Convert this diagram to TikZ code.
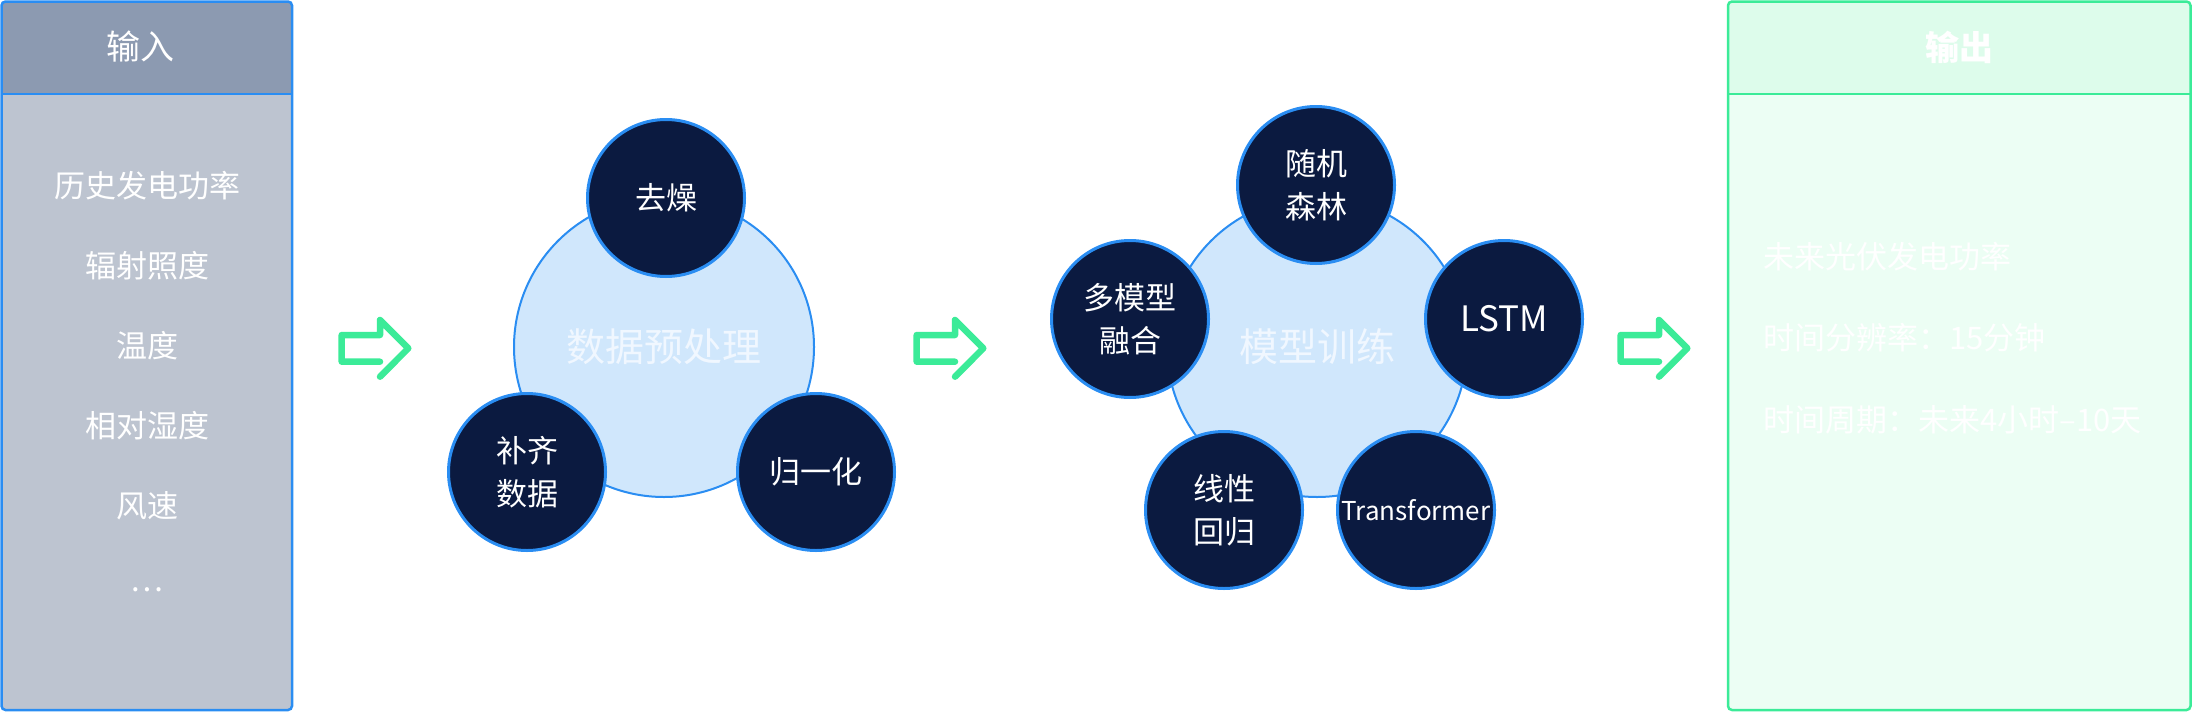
\documentclass[tikz,border=0pt]{standalone}
\usepackage{fontspec}
\setmainfont{Noto Sans CJK SC}
\definecolor{inHead}{HTML}{8C9AB1}
\definecolor{inBody}{HTML}{BDC4D0}
\definecolor{blueEdge}{HTML}{2A8DF2}
\definecolor{navy}{HTML}{0B1A40}
\definecolor{paleBlue}{HTML}{D0E7FC}
\definecolor{greenEdge}{HTML}{3BEB98}
\definecolor{outHead}{HTML}{DDFCEB}
\definecolor{outBody}{HTML}{ECFEF4}
\definecolor{bigText}{HTML}{F0F7FF}
\tikzset{
  headtext/.style={text=white, font=\fontsize{34}{40}\selectfont, inner sep=0pt},
  intext/.style={text=white, font=\fontsize{31}{37}\selectfont, inner sep=0pt},
  outtext/.style={text=white, font=\fontsize{31}{37}\selectfont, inner sep=0pt, anchor=west},
  bigcircle/.style={circle, fill=paleBlue, draw=blueEdge, line width=2pt, minimum size=300pt, inner sep=0pt,
     text=bigText, font=\fontsize{39}{45}\selectfont},
  smallcircle/.style={circle, fill=navy, draw=blueEdge, line width=3pt, minimum size=157pt, inner sep=0pt,
     text=white, align=center, font=\fontsize{31}{43}\selectfont},
  arrowline/.style={draw=greenEdge, line width=6.5pt, line cap=round, line join=round},
  fatarrow/.pic={\draw[arrowline] (0,13.4)--(-38.3,13.4)--(-38.3,-13.3)--(0,-13.3)--(0,-28.3)--(28.3,0)--(0,28.4);}
}
\begin{document}
\begin{tikzpicture}[x=1pt,y=-1pt]
\useasboundingbox (0,0) rectangle (2192,712);
% input panel
\fill[inBody, rounded corners=4pt] (1.5,1.5) rectangle (292,710);
\fill[inHead, rounded corners=4pt] (1.5,1.5) rectangle (292,94);
\draw[blueEdge, line width=2.5pt, rounded corners=4pt] (1.5,1.5) rectangle (292,710);
\draw[blueEdge, line width=2.5pt] (1.5,94) -- (292,94);
\node[headtext] (inhead) at (140,47) {输入};
\node[intext] (in1) at (147,186) {历史发电功率};
\node[intext] (in2) at (147,266) {辐射照度};
\node[intext] (in3) at (147,346) {温度};
\node[intext] (in4) at (147,426) {相对湿度};
\node[intext] (in5) at (147,506) {风速};
\node[intext] (in6) at (147,590) {…};
% arrows
\pic at (380,348.3) {fatarrow};
\pic at (955,348.3) {fatarrow};
\pic at (1659,348.3) {fatarrow};
% preprocessing
\node[bigcircle] (pre) at (664,347) {数据预处理};
\node[smallcircle] (qz) at (666,198) {去燥};
\node[smallcircle] (bq) at (527,472) {补齐\\数据};
\node[smallcircle] (gy) at (816,472) {归一化};
% model training
\node[bigcircle] (train) at (1317,347) {模型训练};
\node[smallcircle] (rf) at (1316,185) {随机\\森林};
\node[smallcircle, font=\fontsize{35}{40}\selectfont] (lstm) at (1504,319) {LSTM};
\node[smallcircle, font=\fontsize{26}{30}\selectfont] (tf) at (1416,510) {Transformer};
\node[smallcircle] (lr) at (1224,510) {线性\\回归};
\node[smallcircle] (mm) at (1130,319) {多模型\\融合};
% output panel
\fill[outBody, rounded corners=4pt] (1728,1.5) rectangle (2190.5,710);
\fill[outHead, rounded corners=4pt] (1728,1.5) rectangle (2190.5,94);
\draw[greenEdge, line width=2.5pt, rounded corners=4pt] (1728,1.5) rectangle (2190.5,710);
\draw[greenEdge, line width=2.5pt] (1728,94) -- (2190.5,94);
\node[headtext, font=\bfseries\fontsize{34}{40}\selectfont] (outhead) at (1959,47) {输出};
\node[outtext] (out1) at (1763,257) {未来光伏发电功率};
\node[outtext] (out2) at (1763,338) {时间分辨率：15分钟};
\node[outtext] (out3) at (1763,420) {时间周期：未来4小时–10天};
\end{tikzpicture}
\end{document}
